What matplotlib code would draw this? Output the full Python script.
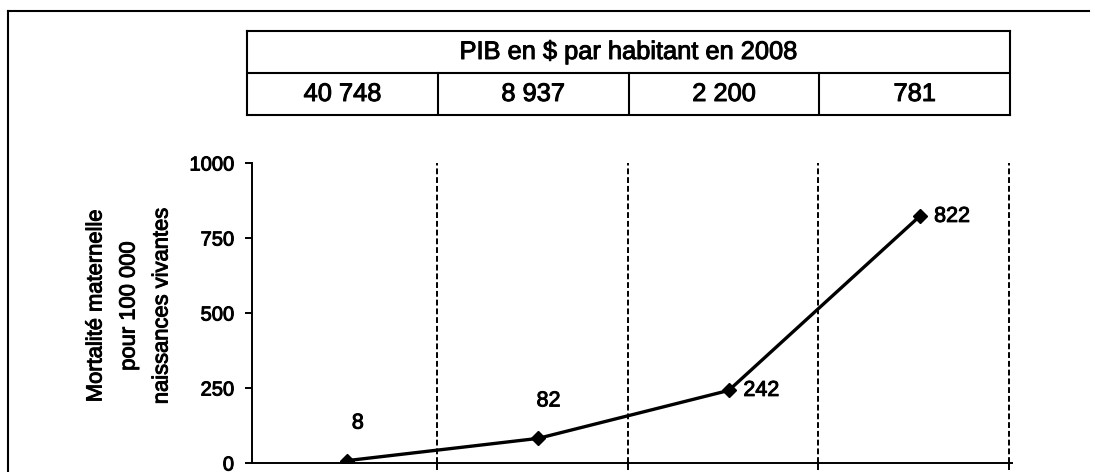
import matplotlib.pyplot as plt
import matplotlib.patheffects as pe
from matplotlib.lines import Line2D

plt.rcParams['font.family'] = ['Liberation Sans', 'DejaVu Sans']

# data
pib_title = "PIB en $ par habitant en 2008"
pib_values = ["40 748", "8 937", "2 200", "781"]
mortality = [8, 82, 242, 822]
y_ticks = [0, 250, 500, 750, 1000]
y_label = "Mortalité maternelle\npour 100 000\nnaissances vivantes"

W, H = 1095, 472
fig = plt.figure(figsize=(W / 100, H / 100), dpi=100)

# slightly heavier text, like the scanned original
heavy = [pe.withStroke(linewidth=0.7, foreground='black')]

def fx(px):
    return px / W

def fy(py):
    return 1 - py / H

# outer frame (left and top edges)
fig.add_artist(Line2D([fx(8), fx(8)], [fy(11), 0], transform=fig.transFigure, color='black', lw=1.5))
fig.add_artist(Line2D([fx(8), fx(1089)], [fy(11), fy(11)], transform=fig.transFigure, color='black', lw=1.5))

# PIB table
tab = fig.add_axes([fx(247), fy(115), fx(1010) - fx(247), fy(31) - fy(115)])
tab.set_xlim(0, 4)
tab.set_ylim(0, 2)
tab.set_xticks([])
tab.set_yticks([])
for s in tab.spines.values():
    s.set_linewidth(1.5)
tab.axhline(1, color='black', lw=1.5)
for i in range(1, 4):
    tab.plot([i, i], [0, 1], color='black', lw=1.5)
tab.text(2, 1.5, pib_title, ha='center', va='center', fontsize=18.3, path_effects=heavy)
for i, v in enumerate(pib_values):
    tab.text(i + 0.5, 0.5, v, ha='center', va='center', fontsize=18.3, path_effects=heavy)

# main chart
ax = fig.add_axes([fx(252), fy(463), fx(1012) - fx(252), fy(163) - fy(463)])
x = list(range(len(mortality)))
ax.plot(x, mortality, color='black', lw=2.4, marker='D', markersize=7.5, zorder=3)
ax.set_xlim(-0.5, len(mortality) - 0.515)
ax.set_ylim(0, 1000)
ax.set_yticks(y_ticks)
ax.set_xticks([i + 0.47 for i in x])
ax.set_xticklabels([])
ax.tick_params(axis='y', length=5, width=1.4, pad=8, labelsize=14.5)
ax.tick_params(axis='x', length=5, width=1.4)
for lab in ax.get_yticklabels():
    lab.set_path_effects(heavy)
ax.grid(axis='x', color='black', linestyle=(0, (3, 1.5)), lw=1.4)
ax.spines['top'].set_visible(False)
ax.spines['right'].set_visible(False)
ax.spines['left'].set_linewidth(1.4)
ax.spines['bottom'].set_linewidth(1.4)

for i, v in enumerate(mortality):
    if i < 2:
        ax.annotate(str(v), (i, v), xytext=(7.5, 27), textcoords='offset points',
                    ha='center', va='center', fontsize=15.5, path_effects=heavy)
    else:
        ax.annotate(str(v), (i, v), xytext=(10.5, 0), textcoords='offset points',
                    ha='left', va='center', fontsize=15.5, path_effects=heavy)

fig.text(fx(129), fy(306), y_label, ha='center', va='center', rotation=90,
         fontsize=15.8, linespacing=1.75, path_effects=heavy)

fig.savefig('out.png', dpi=100)
